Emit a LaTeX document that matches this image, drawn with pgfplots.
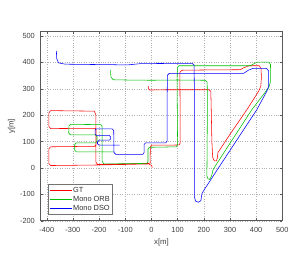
\documentclass[border=0pt]{standalone}
\usepackage{fontspec}
\setmainfont{Liberation Sans}
\usepackage{pgfplots}
\pgfplotsset{compat=1.18}
\definecolor{orbgreen}{rgb}{0.0,0.75,0.0}
\definecolor{axgray}{rgb}{0.35,0.35,0.35}
\newcommand{\tfont}{\fontsize{7.4}{8.5}\selectfont}
\begin{document}
\begin{tikzpicture}
\begin{axis}[
  scale only axis,
  width=241.6pt, height=189pt,
  xmin=-423, xmax=500, ymin=-200, ymax=516,
  xtick={-400,-300,...,500}, ytick={-200,-100,...,500},
  /pgf/number format/assume math mode=true,
  tick label style={font=\tfont, text=black!75},
  yticklabel style={xshift=-2.3pt},
  xticklabel style={yshift=-3.5pt},
  axis line style={axgray, line width=0.5pt},
  tick style={axgray, line width=0.4pt},
  major tick length=2.5pt,
  tick align=inside, tick pos=both,
  grid=major,
  major grid style={dotted, black!30, line width=0.4pt},
  xlabel={x[m]}, ylabel={y[m]},
  label style={font=\fontsize{7.8}{9}\selectfont, text=black!75},
  xlabel style={at={(axis description cs:0.5,-0.113)}, anchor=center},
  ylabel style={at={(axis description cs:-0.12,0.5)}, anchor=center, rotate=0},
  legend cell align=left,
  legend image code/.code={\draw[#1] (0pt,0pt) -- (22pt,0pt);},
  legend style={at={(0.031,0.194)}, anchor=north west, draw=black!55, fill=white,
    inner xsep=1pt, inner ysep=1.3pt, row sep=0pt,
    nodes={inner xsep=1.2pt, inner ysep=1.2pt, text height=5.4pt, text depth=1.4pt, font=\tfont, text=black!80}},
  every axis plot/.append style={line width=0.55pt, mark=none},
]
\addplot[red] coordinates {
(-12,310) (-12,300) (-6,295) (50,296) (150,296) (220,296) (227,290) (229,200) (231,100) (234,40) (240,27) (248,27) (252,38) (254,58) (300,127) (365,221) (410,291) (418,310) (420,340) (419,376) (412,387) (372,387) (350,378) (340,372) (200,371) (116,370) (109,362) (109,300) (110,200) (110,95) (106,87) (50,86) (0,86) (-4,80) (-5,30) (-4,18) (-100,15) (-206,13) (-212,22) (-212,200) (-218,215) (-385,217) (-392,208) (-392,157) (-385,149) (-216,150) (-211,142) (-211,90) (-216,82) (-385,80) (-392,72) (-392,17) (-385,9) (-210,11) (-100,13) (-10,15) (1,9) (3,0)
};
\addlegendentry{GT}
\addplot[orbgreen] coordinates {
(-156,371) (-155,345) (-146,334) (-100,333) (0,332) (100,333) (205,332) (213,325) (214,250) (213,100) (212,-30) (216,-41) (223,-44) (230,-30) (236,-5) (300,93) (384,221) (448,304) (454,323) (455,392) (448,401) (403,401) (378,387) (105,387) (99,380) (98,300) (99,200) (100,88) (95,80) (50,79) (-8,78) (-13,72) (-13,25) (-18,17) (-100,16) (-182,15) (-188,25) (-188,155) (-193,164) (-308,165) (-315,159) (-316,132) (-309,125) (-214,125) (-208,119) (-208,101) (-214,95) (-287,95) (-293,89) (-293,67) (-287,61) (-144,61)
};
\addlegendentry{Mono ORB}
\addplot[blue] coordinates {
(-363,443) (-362,415) (-355,398) (-330,393) (-250,392) (-150,391) (-93,390) (-42,395) (98,396) (155,396) (163,390) (164,300) (164,0) (164,-110) (169,-126) (179,-130) (189,-124) (193,-97) (206,-76) (300,66) (403,221) (441,291) (448,310) (448,367) (440,377) (388,377) (370,370) (352,358) (68,358) (61,351) (60,250) (60,102) (55,95) (-22,95) (-28,89) (-28,58) (-33,51) (-136,51) (-143,58) (-144,141) (-150,148) (-210,148) (-215,143) (-215,128) (-210,123) (-161,123) (-156,118) (-156,110) (-161,105) (-200,105) (-206,99) (-206,91) (-200,86) (-121,86)
};
\addlegendentry{Mono DSO}
\end{axis}
\pgfresetboundingbox
\path (current axis.south west) ++(-40.7pt,-52.3pt) rectangle ++(305pt,273pt);
\end{tikzpicture}
\end{document}
